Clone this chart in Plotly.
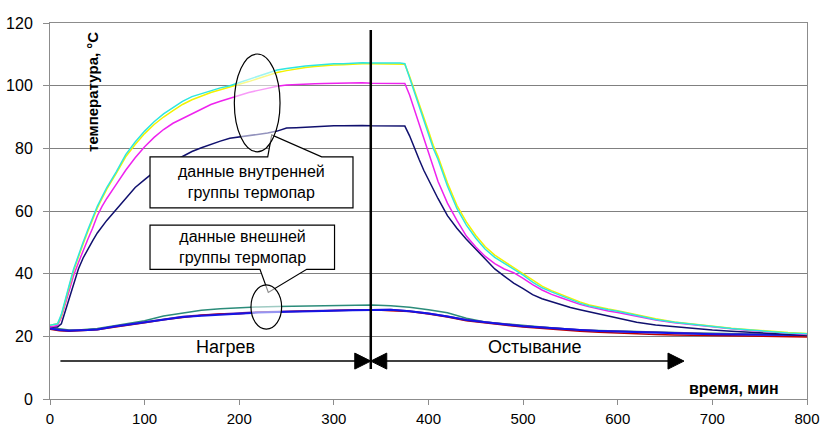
import plotly.graph_objects as go

# ---------------- data ----------------
t_in = [0, 8, 12, 16, 20, 25, 30, 35, 40, 45, 50, 55, 60, 70, 80, 90, 100, 110, 120, 130,
        140, 150, 160, 170, 180, 190, 200, 210, 220, 230, 240, 250, 260, 270, 280, 290, 300,
        310, 320, 330, 340, 350, 360, 370, 375, 380, 385, 390, 395, 400, 405, 410, 420, 430,
        440, 450, 460, 470, 480, 490, 500, 510, 520, 530, 540, 550, 560, 570, 580, 590, 600,
        620, 640, 660, 680, 700, 720, 740, 760, 780, 800]

cyan = [23.5, 24, 27, 32, 36, 41.5, 46, 50, 54, 58, 61.5, 64.5, 67.5, 72.5, 78, 82, 85.5, 88.5, 91, 93,
        95, 96.5, 97.5, 98.5, 99.3, 100, 101, 102, 103, 104, 105, 105.5, 106, 106.3, 106.5, 106.8, 107,
        107, 107.2, 107.3, 107.2, 107.3, 107.2, 107.2, 107, 102.5, 98, 93.5, 89, 84.5, 80, 76.5, 68, 60.8,
        55.5, 51.3, 47.8, 45.2, 43.3, 41.3, 39.5, 37.3, 35.5, 34.2, 33, 31.7, 30.6, 29.7, 29, 28.5, 28,
        26.6, 25.4, 24.5, 23.8, 23.1, 22.5, 22, 21.5, 21.1, 20.8]

yellow = [23.5, 24, 26.5, 31.5, 35.5, 41, 45.5, 49.5, 53.5, 57.5, 61, 64, 67, 72, 77.3, 81.2, 84.7, 87.6, 90, 92,
          94, 95.5, 96.7, 97.8, 98.7, 99.5, 100.4, 101.3, 102.3, 103.2, 104.2, 104.8, 105.4, 105.8, 106.1, 106.4, 106.6,
          106.7, 106.9, 107, 107, 107, 106.9, 106.9, 106.8, 103, 98.8, 94.3, 90, 85.5, 81, 77.5, 69, 61.8,
          56.5, 52.2, 48.6, 45.9, 43.9, 41.9, 40, 37.8, 36, 34.6, 33.4, 32.1, 31, 30, 29.3, 28.7, 28.2,
          26.8, 25.6, 24.6, 23.9, 23.2, 22.6, 22.1, 21.6, 21.2, 20.9]

magenta = [23, 23.5, 26, 30, 34, 39.5, 43.5, 47.5, 51, 54.5, 58.5, 61.5, 64, 68.5, 73, 77, 80.5, 83.5, 86, 88,
           89.5, 91, 92.5, 94, 95, 96, 97, 97.8, 98.5, 99.2, 99.8, 100.2, 100.4, 100.5, 100.6, 100.7, 100.8,
           100.8, 100.8, 100.9, 100.8, 100.8, 100.8, 100.8, 100.7, 97, 92.5, 88, 83.5, 78.5, 74.5, 69.5, 62.5, 57,
           52, 48.5, 45.5, 43.2, 41.5, 40.3, 38.5, 36.5, 34.8, 33.4, 32.3, 31.2, 30.2, 29.4, 28.7, 28.1, 27.6,
           26.3, 25.2, 24.3, 23.6, 23, 22.4, 21.9, 21.4, 21, 20.6]

navy = [23, 23, 24, 28, 32, 37, 41.5, 45, 48, 50.5, 53, 55, 57, 60.5, 64, 67.5, 70, 72.5, 74.2, 75.8,
        77.6, 79, 80.2, 81.3, 82.3, 83.2, 83.6, 84, 84.4, 84.9, 85.5, 86.5, 86.6, 86.8, 87, 87.1, 87.2,
        87.2, 87.3, 87.3, 87.2, 87.2, 87.2, 87.1, 87.1, 84, 80, 76.5, 73, 70, 66.5, 64, 58.5, 54.5,
        51, 47.8, 44.5, 41.5, 39.2, 37, 35.2, 33.3, 32, 31, 30, 29.2, 28.5, 27.8, 27.2, 26.4, 25.7,
        24.5, 23.6, 23, 22.4, 22, 21.6, 21.2, 20.9, 20.6, 20.3]

t_out = [0, 10, 20, 30, 40, 50, 60, 70, 80, 90, 100, 120, 140, 160, 180, 200, 220, 240, 260, 280,
         300, 320, 340, 360, 380, 400, 420, 440, 460, 480, 500, 520, 540, 560, 580, 600, 620, 640,
         660, 680, 700, 720, 740, 760, 780, 800]

teal = [22.8, 22.3, 22, 22, 22.2, 22.5, 23, 23.5, 24, 24.5, 25, 26.5, 27.5, 28.3, 28.8, 29.2, 29.4, 29.5, 29.6, 29.8,
        30, 30, 30, 29.8, 29.3, 28.5, 27.5, 25.8, 24.6, 24, 23.4, 23, 22.5, 22, 21.9, 21.7, 21.5, 21.4,
        21.3, 21.1, 21, 20.9, 20.8, 20.6, 20.5, 20.4]

purple = [22.6, 22.1, 21.9, 21.9, 22.1, 22.3, 22.9, 23.3, 23.7, 24.1, 24.5, 25.5, 26.3, 26.8, 27.2, 27.5, 27.8, 27.9, 28.1, 28.2,
          28.3, 28.4, 28.5, 28.6, 28.1, 27.4, 26.4, 25.3, 24.6, 23.9, 23.3, 22.9, 22.4, 22.1, 21.8, 21.6, 21.4, 21.2,
          21.1, 21, 20.8, 20.7, 20.6, 20.6, 20.5, 20.5]

red = [22.3, 21.8, 21.6, 21.7, 21.9, 22.1, 22.6, 23, 23.5, 23.8, 24.3, 25.3, 26, 26.7, 27.1, 27.2, 27.7, 27.8, 28.1, 28,
       28.3, 28.2, 28.5, 28.2, 27.9, 27.1, 26.2, 25, 24.2, 23.6, 23, 22.5, 22, 21.6, 21.3, 21, 20.8, 20.6,
       20.4, 20.3, 20.2, 20.1, 20, 20, 19.9, 19.8]

blue = [22.5, 22, 21.8, 21.8, 22, 22.2, 22.8, 23.2, 23.6, 24, 24.4, 25.4, 26.2, 26.6, 27, 27.3, 27.6, 27.8, 28, 28.1,
        28.2, 28.3, 28.4, 28.5, 28, 27.3, 26.3, 25.2, 24.5, 23.8, 23.2, 22.8, 22.3, 22, 21.7, 21.5, 21.3, 21.1,
        21, 20.9, 20.7, 20.6, 20.5, 20.5, 20.4, 20.4]

x_ticks = [0, 100, 200, 300, 400, 500, 600, 700, 800]
y_ticks = [0, 20, 40, 60, 80, 100, 120]

y_title = "температура, °С"
x_title = "время, мин"
inner_label = "данные внутренней<br>группы термопар"
outer_label = "данные внешней<br>группы термопар"
heat_label = "Нагрев"
cool_label = "Остывание"

# ---------------- figure ----------------
FONT = "Liberation Sans, Arial, sans-serif"
fig = go.Figure()

series = [
    (t_out, teal, "#2b8c7a", 1.5),
    (t_out, purple, "#7a2fa8", 1.5),
    (t_out, red, "#c00000", 1.5),
    (t_out, blue, "#1414e6", 2),
    (t_in, navy, "#10106e", 1.5),
    (t_in, magenta, "#ee22ee", 1.5),
    (t_in, yellow, "#f2f200", 1.5),
    (t_in, cyan, "#2ee6e0", 1.5),
]
for xs, ys, col, w in series:
    fig.add_trace(go.Scatter(x=xs, y=ys, mode="lines",
                             line=dict(color=col, width=w), showlegend=False,
                             hoverinfo="skip"))

shapes = []
# callout boxes
shapes.append(dict(type="path", xref="x", yref="y",
                   path="M 105.7,77.3 L 230.1,77.3 L 234.3,84.3 L 287.1,77.3 L 320.2,77.3 "
                        "L 320.2,61.0 L 105.7,61.0 Z",
                   fillcolor="white", line=dict(color="black", width=1.2)))
shapes.append(dict(type="path", xref="x", yref="y",
                   path="M 105.7,55.5 L 300.7,55.5 L 300.7,41.4 L 271.3,41.4 L 230.7,34.0 "
                        "L 221.9,41.4 L 105.7,41.4 Z",
                   fillcolor="white", line=dict(color="black", width=1.2)))
# ellipses
shapes.append(dict(type="circle", xref="x", yref="y", x0=194.8, x1=243.1, y0=78.9, y1=110.1,
                   fillcolor="rgba(255,255,255,0.55)", line=dict(color="black", width=1.2)))
shapes.append(dict(type="circle", xref="x", yref="y", x0=212.4, x1=244.8, y0=22.3, y1=36.4,
                   fillcolor="rgba(255,255,255,0.55)", line=dict(color="black", width=1.2)))
# vertical divider
shapes.append(dict(type="line", xref="x", yref="y", x0=339, x1=339, y0=9.6, y1=117.8,
                   line=dict(color="black", width=2.5)))
# arrows
shapes.append(dict(type="line", xref="x", yref="y", x0=11, x1=330, y0=12.1, y1=12.1,
                   line=dict(color="black", width=1.5)))
shapes.append(dict(type="line", xref="x", yref="y", x0=348, x1=660, y0=12.1, y1=12.1,
                   line=dict(color="black", width=1.5)))
for anchor, path in [(339, "M 0,0 L -16,8 L -16,-8 Z"),
                     (339, "M 0,0 L 16,8 L 16,-8 Z"),
                     (670, "M 0,0 L -16,8 L -16,-8 Z")]:
    shapes.append(dict(type="path", xref="x", yref="y", xsizemode="pixel", ysizemode="pixel",
                       xanchor=anchor, yanchor=12.1, path=path,
                       fillcolor="black", line=dict(color="black", width=1)))

annotations = [
    dict(x=212.9, y=69.2, text=inner_label, showarrow=False, font=dict(size=16, color="black", family=FONT),
         xanchor="center", yanchor="middle"),
    dict(x=203.2, y=48.4, text=outer_label, showarrow=False, font=dict(size=16, color="black", family=FONT),
         xanchor="center", yanchor="middle"),
    dict(x=185.5, y=16.6, text=heat_label, showarrow=False, font=dict(size=18, color="black", family=FONT),
         xanchor="center", yanchor="middle"),
    dict(x=512.6, y=16.6, text=cool_label, showarrow=False, font=dict(size=18, color="black", family=FONT),
         xanchor="center", yanchor="middle"),
    dict(x=45.4, y=98, text="<b>" + y_title + "</b>", showarrow=False, textangle=-90,
         font=dict(size=15, color="black", family=FONT), xanchor="center", yanchor="middle"),
    dict(x=723, y=3.2, text="<b>" + x_title + "</b>", showarrow=False,
         font=dict(size=16, color="black", family=FONT), xanchor="center", yanchor="middle"),
]

fig.update_layout(
    width=821, height=428,
    margin=dict(l=50, r=14, t=23, b=29, pad=0, autoexpand=False),
    paper_bgcolor="white", plot_bgcolor="white",
    font=dict(family=FONT, size=16, color="black"),
    shapes=shapes, annotations=annotations, showlegend=False,
)
fig.update_xaxes(range=[0, 800], tickvals=x_ticks, showgrid=False, zeroline=False,
                 showline=True, linecolor="#8c8c8c", linewidth=1, mirror=True,
                 ticks="outside", ticklen=5, tickcolor="#8c8c8c", automargin=False,
                 tickfont=dict(size=15, color="black", family=FONT), ticklabelstandoff=1)
fig.update_yaxes(range=[0, 120], tickvals=y_ticks, showgrid=True, gridcolor="#808080", gridwidth=1,
                 zeroline=False, showline=True, linecolor="#8c8c8c", linewidth=1, mirror=True,
                 ticks="outside", ticklen=6, tickcolor="#8c8c8c", automargin=False,
                 tickfont=dict(size=16, color="black", family=FONT), ticklabelstandoff=7)

fig.write_html("out.html", config={"displayModeBar": False},
               post_script="document.body.style.margin='0';document.body.style.padding='0';"
                           "document.body.style.overflow='hidden';")
